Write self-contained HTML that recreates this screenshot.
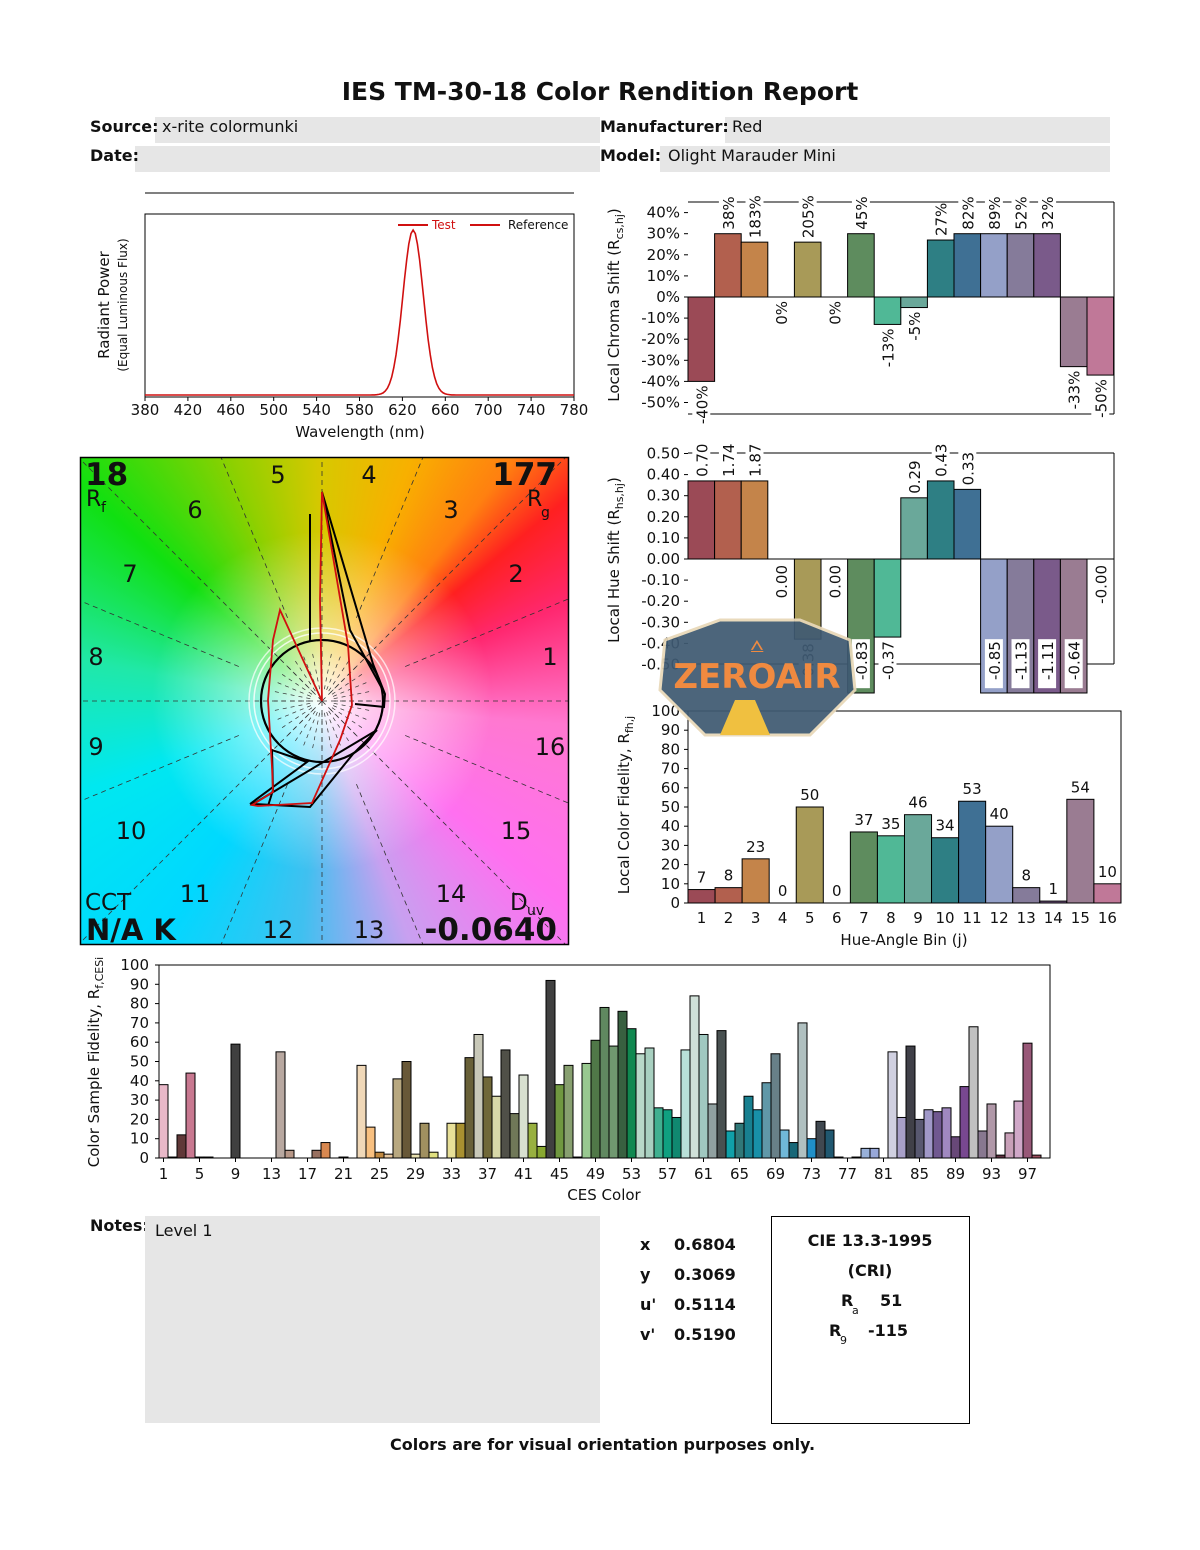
<!DOCTYPE html>
<html><head><meta charset="utf-8"><style>
html,body{margin:0;padding:0;background:#fff;width:1200px;height:1550px;overflow:hidden}
svg{display:block}
text{font-family:"DejaVu Sans","Liberation Sans",sans-serif;fill:#111}
</style></head><body>
<svg id="s" width="1200" height="1550" viewBox="0 0 1200 1550" xmlns="http://www.w3.org/2000/svg">
<defs>
<radialGradient id="glow" cx="322" cy="701" r="170" gradientUnits="userSpaceOnUse">
<stop offset="0" stop-color="#fff" stop-opacity="1"/>
<stop offset="0.3" stop-color="#fff" stop-opacity="0.6"/>
<stop offset="1" stop-color="#fff" stop-opacity="0"/>
</radialGradient>
<clipPath id="wc"><rect x="81" y="458" width="487" height="486"/></clipPath>
</defs>
<text x="600" y="100" font-size="25" font-weight="bold" text-anchor="middle">IES TM-30-18 Color Rendition Report</text>
<rect x="155" y="117" width="445" height="26" fill="#e6e6e6"/>
<rect x="135" y="146" width="465" height="26" fill="#e6e6e6"/>
<rect x="725" y="117" width="385" height="26" fill="#e6e6e6"/>
<rect x="660" y="146" width="450" height="26" fill="#e6e6e6"/>
<text x="90" y="132" font-size="16" font-weight="bold">Source:</text>
<text x="162" y="132" font-size="16">x-rite colormunki</text>
<text x="90" y="161" font-size="16" font-weight="bold">Date:</text>
<text x="600" y="132" font-size="16" font-weight="bold">Manufacturer:</text>
<text x="732" y="132" font-size="16">Red</text>
<text x="600" y="161" font-size="16" font-weight="bold">Model:</text>
<text x="668" y="161" font-size="16">Olight Marauder Mini</text>
<g id="g"></g>
<text x="390" y="1450" font-size="16" font-weight="bold">Colors are for visual orientation purposes only.</text>
</svg>
<script>
var G=document.getElementById('g'),h='';
function T(x,y,s,fs,anc,extra){h+='<text x="'+x+'" y="'+y+'" font-size="'+fs+'"'+(anc?' text-anchor="'+anc+'"':'')+(extra||'')+'>'+s+'</text>';}
function R(x,y,w,hh,f,st){h+='<rect x="'+x+'" y="'+y+'" width="'+w+'" height="'+hh+'" fill="'+f+'"'+(st?' stroke="#000" stroke-width="1"':'')+'/>';}
function L(a,b,c,d,col,sw){h+='<line x1="'+a+'" y1="'+b+'" x2="'+c+'" y2="'+d+'" stroke="'+(col||'#000')+'" stroke-width="'+(sw||1)+'"/>';}
// spectrum
L(145,193,574,193);
h+='<rect x="145" y="214" width="429" height="183" fill="none" stroke="#000"/>';
var p='M145,395';
for(var nm=380;nm<=780;nm+=2){var x=145+(nm-380)*429/400;var v=Math.exp(-Math.pow((nm-630)/9.5,2)/2);var y=395-165*v;p+=' L'+x.toFixed(1)+','+y.toFixed(1);}
h+='<path d="'+p+'" fill="none" stroke="#d01010" stroke-width="1.6"/>';
L(398,225,428,225,'#d01010',2);T(432,229,'Test',12,'',' style="fill:#d01010"');
L(470,225,500,225,'#d01010',2);T(508,229,'Reference',12);
for(var i=0;i<=10;i++){var x=145+i*42.9;L(x,397,x,401);T(x,415,380+i*40,15,'middle');}
T(360,437,'Wavelength (nm)',15,'middle');
T(0,0,'Radiant Power',15,'middle',' transform="translate(109,305) rotate(-90)"');
T(0,0,'(Equal Luminous Flux)',12,'middle',' transform="translate(127,305) rotate(-90)"');
// wheel
var cx=322,cy=701;
h+='<g clip-path="url(#wc)">';
h+='<foreignObject x="81" y="458" width="487" height="486"><div xmlns="http://www.w3.org/1999/xhtml" style="width:487px;height:486px;background:conic-gradient(from 0deg at 49.6% 50.5%, #d8c800 0deg,#f8b000 20deg,#ff8010 38deg,#ff2020 50deg,#ff2870 68deg,#ff78d0 95deg,#ff70f0 130deg,#c8a0f0 160deg,#40c0f0 185deg,#00d8ff 215deg,#00e8f0 250deg,#20e8a8 280deg,#10e010 312deg,#90d000 340deg,#d8c800 360deg)"></div></foreignObject>';
h+='<circle cx="'+cx+'" cy="'+cy+'" r="170" fill="url(#glow)"/>';
for(var k=0;k<16;k++){var a=k*Math.PI/8;var ex=cx+400*Math.cos(a),ey=cy-400*Math.sin(a);var r0=(k%2==0)?0:90;
h+='<line x1="'+(cx+r0*Math.cos(a))+'" y1="'+(cy-r0*Math.sin(a))+'" x2="'+ex+'" y2="'+ey+'" stroke="#333" stroke-width="0.8" stroke-dasharray="5,4"/>';}
for(var k=0;k<32;k++){var a=k*Math.PI/16;h+='<line x1="'+(cx+12*Math.cos(a))+'" y1="'+(cy-12*Math.sin(a))+'" x2="'+(cx+48*Math.cos(a))+'" y2="'+(cy-48*Math.sin(a))+'" stroke="#333" stroke-width="0.7" stroke-dasharray="4,4"/>';}
h+='</g>';
h+='<circle cx="'+cx+'" cy="'+cy+'" r="68" fill="none" stroke="#fff" stroke-width="1.5" opacity="0.8"/><circle cx="'+cx+'" cy="'+cy+'" r="73" fill="none" stroke="#fff" stroke-width="1.5" opacity="0.7"/>';
h+='<circle cx="'+cx+'" cy="'+cy+'" r="61" fill="none" stroke="#000" stroke-width="2.2"/>';
h+='<path d="M322,492 L373,664 L385,694 L384,707 L355,704 M385,694 L350,630 L322,492 M310,514 L310,641 M377,730 L253,804 L310,807 L353,754 L377,730 M250,804 L307,762 L272,750 L273,790 L268,806" fill="none" stroke="#000" stroke-width="2"/>';
h+='<path d="M322,492 L348,645 L352,705 L340,740 L312,803 L258,806 L252,805 L273,792 L272,767 L268,700 L273,640 L280,610 L322,701 L320,600 Z" fill="none" stroke="#d01010" stroke-width="1.8"/>';
h+='<rect x="80.5" y="457.5" width="488" height="487" fill="none" stroke="#000" stroke-width="1.5"/>';
var lb=[[550,656,'1'],[516,573,'2'],[451,509,'3'],[369,474,'4'],[278,474,'5'],[195,509,'6'],[130,573,'7'],[96,656,'8'],[96,746,'9'],[131,830,'10'],[195,893,'11'],[278,929,'12'],[369,929,'13'],[451,893,'14'],[516,830,'15'],[550,746,'16']];
lb.forEach(function(q){T(q[0],q[1]+9,q[2],24,'middle');});
T(85,485,'18',31,'',' font-weight="bold"');T(86,506,'R',22);T(101,512,'f',14);
T(557,485,'177',31,'end',' font-weight="bold"');T(527,506,'R',22);T(541,517,'g',14);
T(85,910,'CCT',23);T(86,940,'N/A K',29,'',' font-weight="bold"');
T(510,910,'D',23);T(527,915,'uv',14);T(557,940,'-0.0640',31,'end',' font-weight="bold"');
var hc=['#9b4a56','#b2604e','#c4844a','#d0b060','#a89a58','#8a9a58','#5e8c5e','#50b896','#6aa89a','#2e7f84','#3f7094','#94a0c8','#857b9a','#7a5a8a','#9a7c92','#c07898'];
var X0=688,BW=26.6;
// chroma
var yc=function(v){return 297-v*2.11;};
L(688,202,1114,202);L(688,414,1114,414);L(1114,202,1114,414);
var cv=[-40,30,26,null,26,null,30,-13,-5,27,30,30,30,30,-33,-37];
var cl=['-40%','38%','183%','0%','205%','0%','45%','-13%','-5%','27%','82%','89%','52%','32%','-33%','-50%'];
for(var i=0;i<16;i++){var x=X0+i*BW;if(cv[i]!==null){var y1=yc(Math.max(cv[i],0)),y2=yc(Math.min(cv[i],0));R(x,y1,BW,y2-y1,hc[i],1);}}
L(688,297,1114,297);
for(var i=0;i<16;i++){var x=X0+i*BW+BW/2;var v=cv[i]===null?0:cv[i];var s=cl[i];var len=s.length*9+4;
 if(v>0){var yb=yc(v)-2;R(x-9,yb-len,18,len,'#fff');T(0,0,s,15,'start',' transform="translate('+(x+6)+','+(yb-2)+') rotate(-90)"');}
 else{var yt=yc(v)+2;R(x-9,yt,18,len,'#fff');T(0,0,s,15,'end',' transform="translate('+(x+6)+','+(yt+2)+') rotate(-90)"');}}
[40,30,20,10,0,-10,-20,-30,-40,-50].forEach(function(v){var y=yc(v);L(684,y,688,y);T(680,y+5,v+'%',15,'end');});
h+='<text font-size="15" text-anchor="middle" transform="translate(619,305) rotate(-90)">Local Chroma Shift (R<tspan font-size="11" dy="4">cs,hj</tspan><tspan dy="-4">)</tspan></text>';
// hue shift
var yh=function(v){return 559-v*211;};
L(688,453,1114,453);L(688,664,1114,664);L(1114,453,1114,664);
var hv=[0.37,0.37,0.37,null,-0.38,null,-0.635,-0.37,0.29,0.37,0.33,-0.635,-0.635,-0.635,-0.635,null];
var hl=['0.70','1.74','1.87','0.00','-0.38','0.00','-0.83','-0.37','0.29','0.43','0.33','-0.85','-1.13','-1.11','-0.64','-0.00'];
for(var i=0;i<16;i++){var x=X0+i*BW;if(hv[i]!==null){var y1=yh(Math.max(hv[i],0)),y2=yh(Math.min(hv[i],0));R(x,y1,BW,y2-y1,hc[i],1);}}
L(688,559,1114,559);
for(var i=0;i<16;i++){var x=X0+i*BW+BW/2;var s=hl[i];var len=s.length*9+4;var v=hv[i];
 if(v!==null&&v>0){var yb=yh(v)-2;R(x-9,yb-len,18,len,'#fff');T(0,0,s,15,'start',' transform="translate('+(x+6)+','+(yb-2)+') rotate(-90)"');}
 else{var yt=(v===null)?yh(0)+4:(v<-0.5?yh(-0.38):yh(v)+2);R(x-9,yt,18,len,'#fff');T(0,0,s,15,'end',' transform="translate('+(x+6)+','+(yt+2)+') rotate(-90)"');}}
[0.5,0.4,0.3,0.2,0.1,0,-0.1,-0.2,-0.3,-0.4,-0.5].forEach(function(v){var y=yh(v);L(684,y,688,y);T(680,y+5,(v<0?'-':'')+Math.abs(v).toFixed(2),15,'end');});
h+='<text font-size="15" text-anchor="middle" transform="translate(619,560) rotate(-90)">Local Hue Shift (R<tspan font-size="11" dy="4">hs,hj</tspan><tspan dy="-4">)</tspan></text>';
// fidelity
var yf=function(v){return 903-v*1.92;};
h+='<rect x="688" y="711" width="433" height="192" fill="none" stroke="#000"/>';
var fv=[7,8,23,0,50,0,37,35,46,34,53,40,8,1,54,10];
for(var i=0;i<16;i++){var x=X0+i*27.06;if(fv[i]>0)R(x,yf(fv[i]),27.06,fv[i]*1.92,hc[i],1);T(x+13.5,yf(fv[i])-7,fv[i],15,'middle');T(x+13.5,923,i+1,15,'middle');}
for(var v=0;v<=100;v+=10){var y=yf(v);L(684,y,688,y);T(680,y+5,v,15,'end');}
T(904,945,'Hue-Angle Bin (j)',15,'middle');
h+='<text font-size="15" text-anchor="middle" transform="translate(629,805) rotate(-90)">Local Color Fidelity, R<tspan font-size="11" dy="4">fh,j</tspan></text>';
// logo
h+='<polygon points="665,640 720,620 800,620 850,640 855,690 810,735 705,735 660,690" fill="#3f5a72" stroke="#e8d8b8" stroke-width="3" opacity="0.93"/>';
h+='<polygon points="735,700 755,700 770,735 720,735" fill="#f0c040"/>';
T(757,688,'ZEROAIR',34,'middle',' font-weight="bold" style="fill:#f08a40"');
T(757,652,'⩟',22,'middle',' style="fill:#f08a40"');
// bottom CES chart
var bv=[38,0.5,12,44,0.5,0.5,0,0,59,0,0,0,0,55,4,0,0,4,8,0,0.5,0,48,16,3,2,41,50,2,18,3,0,18,18,52,64,42,32,56,23,43,18,6,92,38,48,0.5,49,61,78,58,76,67,54,57,26,25,21,56,84,64,28,66,14,18,32,25,39,54,14.5,8,70,10,19,14.5,0.5,0,0.5,5,5,0,55,21,58,20,25,24,26,11,37,68,14,28,1.5,13,29.5,59.5,1.5,0];
var bc='#e8b8c8,#503030,#603838,#c87890,#402828,#402828,#888,#888,#404040,#888,#888,#888,#888,#b8a8a0,#b89888,#888,#888,#987060,#d88850,#888,#402020,#888,#f0d8b8,#f8c080,#c08840,#e8c8a0,#b8a880,#685838,#e8e0b0,#a09060,#e0e080,#888,#e8e098,#a89030,#686038,#c8c8b8,#706838,#d8d8a8,#505048,#707858,#d8e0d0,#98b040,#88a830,#404040,#709840,#88a070,#303030,#98c890,#507848,#608860,#709870,#386040,#108850,#b8d8c8,#a8d0c0,#40b090,#10a080,#108870,#b8e0d8,#d0e0d8,#a0c8c0,#90a0a0,#485050,#10a0a8,#307878,#188090,#1890a8,#6098a8,#688088,#70b8d8,#186878,#b0c0c0,#2090c8,#404850,#205870,#303030,#303030,#303030,#98b0d8,#98a8d8,#888,#d0d0e0,#a8a0c8,#404048,#585870,#a098c8,#705890,#a088c0,#684878,#784890,#c0c0c0,#887890,#b098a8,#603040,#c8a0b8,#d0a8c8,#985878,#a05060,#888'.split(',');
var yb=function(v){return 1158-v*1.93;};
for(var i=0;i<99;i++){if(bv[i]>0)R(159+i*9,yb(bv[i]),9,bv[i]*1.93,bc[i],1);}
h+='<rect x="159" y="965" width="891" height="193" fill="none" stroke="#000"/>';
for(var v=0;v<=100;v+=10){var y=yb(v);L(155,y,159,y);T(149,y+5,v,15,'end');}
for(var n=1;n<=97;n+=4){var x=163.5+(n-1)*9;L(x,1158,x,1162);T(x,1179,n,15,'middle');}
T(604,1200,'CES Color',15,'middle');
h+='<text font-size="15" text-anchor="middle" transform="translate(99,1062) rotate(-90)">Color Sample Fidelity, R<tspan font-size="11" dy="4">f,CESi</tspan></text>';
// notes
T(90,1231,'Notes:',16,'',' font-weight="bold"');
R(145,1216,455,207,'#e6e6e6');T(155,1236,'Level 1',16);
[['x','0.6804',1250],['y','0.3069',1280],["u'",'0.5114',1310],["v'",'0.5190',1340]].forEach(function(q){T(640,q[2],q[0],16,'',' font-weight="bold"');T(674,q[2],q[1],16,'',' font-weight="bold"');});
h+='<rect x="771.5" y="1216.5" width="198" height="207" fill="none" stroke="#000"/>';
T(870,1246,'CIE 13.3-1995',16,'middle',' font-weight="bold"');T(870,1276,'(CRI)',16,'middle',' font-weight="bold"');
T(841,1306,'R',16,'',' font-weight="bold"');T(852,1314,'a',11);T(880,1306,'51',16,'',' font-weight="bold"');
T(829,1336,'R',16,'',' font-weight="bold"');T(840,1344,'9',11);T(868,1336,'-115',16,'',' font-weight="bold"');
G.innerHTML=h;
</script>
</body></html>
